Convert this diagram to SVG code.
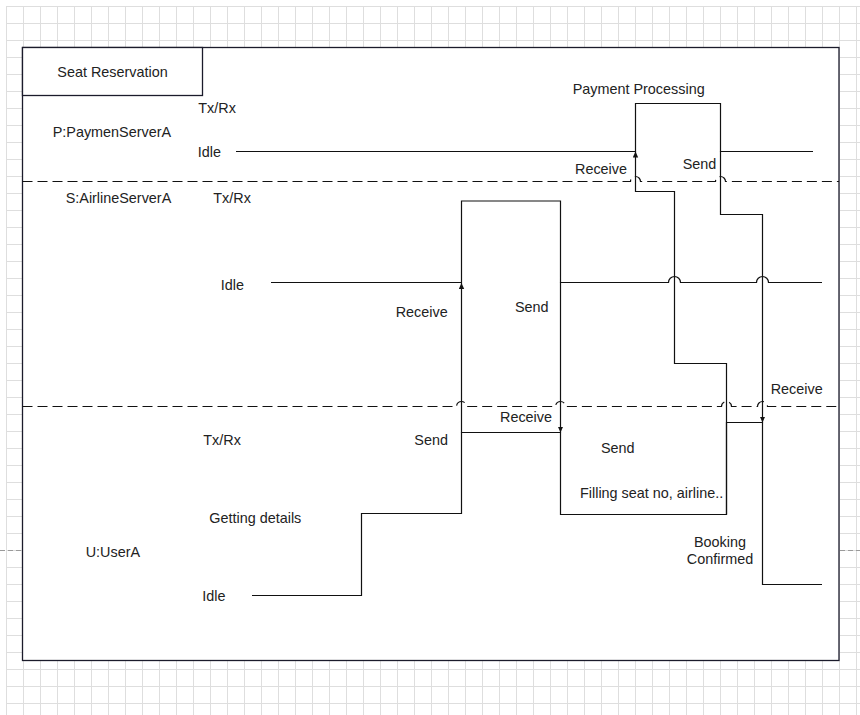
<svg xmlns="http://www.w3.org/2000/svg" width="860" height="715" viewBox="0 0 860 715">
  <defs>
    <pattern id="grid" x="6" y="6" width="17" height="17" patternUnits="userSpaceOnUse">
      <path d="M0 0.5 H17 M0.5 0 V17" fill="none" stroke="#dedede" stroke-width="1"/>
    </pattern>
    <marker id="arrow" viewBox="0 0 6 6" refX="6" refY="3" markerWidth="6" markerHeight="6" markerUnits="userSpaceOnUse" orient="auto">
      <path d="M0,0.3 L6,3 L0,5.7 z" fill="#111"/>
    </marker>
    <style>
      .lbl { font-family: "Liberation Sans", Arial, sans-serif; font-size: 14.4px; fill: #222; }
      .mid { text-anchor: middle; }
      .wave { fill: none; stroke: #111; stroke-width: 1.2; }
      .msg { fill: none; stroke: #111; stroke-width: 1.2; marker-end: url(#arrow); }
      .sep { fill: none; stroke: #111; stroke-width: 1.2; stroke-dasharray: 10 5; }
      .frame { fill: #fff; stroke: #1b1b2b; stroke-width: 1.3; }
    </style>
  </defs>

  <!-- canvas grid and page break -->
  <rect x="0" y="0" width="860" height="715" fill="#fff"/>
  <rect x="6" y="6" width="854" height="709" fill="url(#grid)"/>
  <line x1="0" y1="550.5" x2="860" y2="550.5" stroke="#9a9a9a" stroke-width="1" stroke-dasharray="5 3"/>

  <!-- outer frame with title tab -->
  <g id="frame">
    <rect class="frame" x="22.5" y="47.5" width="816.5" height="613"/>
    <rect class="frame" x="22.5" y="47.5" width="180" height="48"/>
    <text class="lbl" x="57.3" y="77.3">Seat Reservation</text>
  </g>

  <!-- lifeline: payment server -->
  <g id="payment">
    <text class="lbl" x="52.7" y="137.3">P:PaymenServerA</text>
    <text class="lbl" x="198.3" y="113.3">Tx/Rx</text>
    <text class="lbl" x="197.7" y="156.7">Idle</text>
    <text class="lbl" x="572.7" y="94.3">Payment Processing</text>
    <text class="lbl" x="575" y="174">Receive</text>
    <text class="lbl" x="682.7" y="169">Send</text>
  </g>

  <!-- lifeline: airline server -->
  <g id="airline">
    <text class="lbl" x="65.7" y="203.3">S:AirlineServerA</text>
    <text class="lbl" x="213.3" y="203.3">Tx/Rx</text>
    <text class="lbl" x="220.7" y="290">Idle</text>
    <text class="lbl" x="395.7" y="316.7">Receive</text>
    <text class="lbl" x="515" y="311.7">Send</text>
  </g>

  <!-- lifeline: user -->
  <g id="user">
    <text class="lbl" x="85.7" y="557.3">U:UserA</text>
    <text class="lbl" x="203.3" y="445">Tx/Rx</text>
    <text class="lbl" x="209.3" y="523.3">Getting details</text>
    <text class="lbl" x="202.3" y="600.7">Idle</text>
    <text class="lbl" x="414.3" y="445">Send</text>
    <text class="lbl" x="500" y="422.3">Receive</text>
    <text class="lbl" x="601" y="453.3">Send</text>
    <text class="lbl" x="580" y="497.7">Filling seat no, airline..</text>
    <text class="lbl mid" x="720" y="547.3">Booking</text>
    <text class="lbl mid" x="720" y="564">Confirmed</text>
    <text class="lbl" x="770.7" y="394">Receive</text>
  </g>

  <!-- state waveforms, lane separators and messages -->
  <g id="connectors">
    <path class="sep" d="M22.5 181.5 H630.5 a5 5 0 0 1 10 0 H715.5 a5 5 0 0 1 10 0 H839"/>
    <path class="sep" d="M22.5 406.5 H456.5 a5 5 0 0 1 10 0 H555.5 a5 5 0 0 1 10 0 H721.5 a5 5 0 0 1 10 0 H757.5 a5 5 0 0 1 10 0 H839"/>

    <path class="wave" d="M236 151.5 H635.5 V103.5 H720.5 V151.5 H813"/>
    <path class="wave" d="M271 282.5 H461.5 V201 H560.5 V282.5 H668.5 a6 6 0 0 1 12 0 H756.5 a6 6 0 0 1 12 0 H822"/>
    <path class="wave" d="M252 595.5 H361.5 V513.5 H461.5 V432.5 H560.5 V514.5 H726.5 V422.5 H762.5 V584.5 H822"/>

    <path class="msg" d="M461.5 432.5 V283"/>
    <path class="msg" d="M560.5 282.5 V432.5"/>
    <path class="msg" d="M726.5 514.5 V363.5 H674.5 V191.5 H635.5 V151.5"/>
    <path class="msg" d="M720.5 151.5 V214.5 H762.5 V422.5"/>
  </g>
</svg>
